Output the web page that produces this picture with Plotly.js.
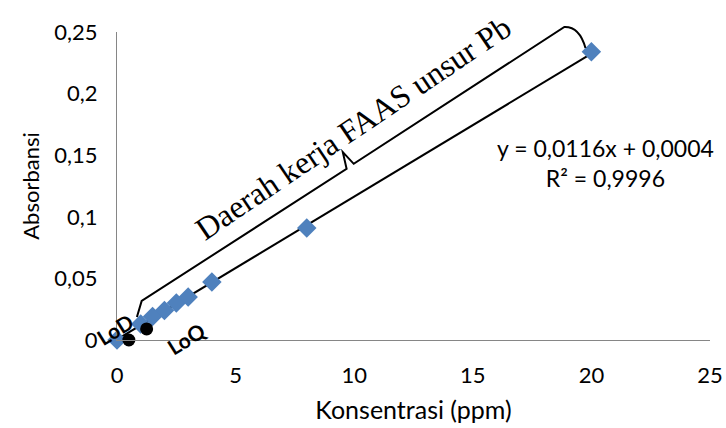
<!DOCTYPE html>
<html><head><meta charset="utf-8">
<script src="https://cdn.plot.ly/plotly-3.0.1.min.js"></script>
<style>html,body{margin:0;padding:0;background:#fff}</style>
</head><body><div id="chart" style="width:726px;height:428px"></div>
<script>
// Calibration data (Pb, FAAS)
const concentration = [0, 1, 1.5, 2, 2.5, 3, 4, 8, 20];
const absorbance = [0, 0.013, 0.019, 0.024, 0.030, 0.035, 0.047, 0.091, 0.234];
// Linear trendline y = 0.0116x + 0.0004
const trendSlope = 0.0116;
const trendIntercept = 0.0004;
const trendX = [0, 20];
// LoD / LoQ points
const limitX = [0.5, 1.25];
const limitY = [0, 0.009];
const limitLabels = ['LoD', 'LoQ'];
// Axis ticks
const xTicks = [0, 5, 10, 15, 20, 25];
const yTicks = [0, 0.05, 0.1, 0.15, 0.2, 0.25];
const yTickLabels = ['0', '0,05', '0,1', '0,15', '0,2', '0,25'];
// Working-range brace (data coordinates)
const braceX = [0.84, 1.04, 9.68, 9.52, 9.98, 18.86, 19.75];
const braceY = [0.0187, 0.0317, 0.1390, 0.1525, 0.1430, 0.2541, 0.237];
const braceLabel = 'Daerah kerja FAAS unsur Pb';
const eqText = 'y = 0,0116x + 0,0004<br>R² = 0,9996';

const xRange = [0, 25], yRange = [0, 0.25];
const px = x => (x - xRange[0]) / (xRange[1] - xRange[0]);
const py = y => (y - yRange[0]) / (yRange[1] - yRange[0]);
const B = braceX.map((x, i) => [px(x), py(braceY[i])]);
const braceCtrl = [px(19.5), py(0.2545)];
const bracePath = `M${B[0][0]},${B[0][1]} L${B[1][0]},${B[1][1]} L${B[2][0]},${B[2][1]} L${B[3][0]},${B[3][1]} L${B[4][0]},${B[4][1]} L${B[5][0]},${B[5][1]} Q${braceCtrl[0]},${braceCtrl[1]} ${B[6][0]},${B[6][1]}`;

const FONT = 'Lato, "Open Sans", sans-serif';
const traces = [
  {x: trendX, y: trendX.map(x => trendSlope * x + trendIntercept), mode: 'lines',
   line: {color: '#000', width: 2}, hoverinfo: 'skip'},
  {x: concentration, y: absorbance, mode: 'markers',
   marker: {symbol: 'diamond', size: 15, color: '#4F81BD'}, cliponaxis: false},
  {x: limitX, y: limitY, mode: 'markers',
   marker: {symbol: 'circle', size: 13, color: '#000'}, cliponaxis: false}
];
const layout = {
  width: 726, height: 428,
  margin: {l: 117, r: 16, t: 32, b: 88},
  paper_bgcolor: '#fff', plot_bgcolor: '#fff',
  showlegend: false,
  font: {family: FONT, size: 22, color: '#000'},
  xaxis: {range: xRange, tickvals: xTicks, showgrid: false, zeroline: false,
    showline: true, linecolor: '#868686', linewidth: 1, ticks: '',
    ticklabelstandoff: 16,
    title: {text: 'Konsentrasi (ppm)', font: {size: 25}, standoff: 14}},
  yaxis: {range: yRange, tickvals: yTicks, ticktext: yTickLabels, showgrid: false, zeroline: false,
    showline: true, linecolor: '#868686', linewidth: 1, ticks: '',
    ticklabelstandoff: 14,
    title: {text: 'Absorbansi', font: {size: 22}, standoff: 8}},
  shapes: [{type: 'path', xref: 'paper', yref: 'paper', path: bracePath,
    line: {color: '#000', width: 2}}],
  annotations: [
    {x: 9.95, y: 0.172, xref: 'x', yref: 'y', text: braceLabel, showarrow: false,
     textangle: -34, font: {family: '"Liberation Serif", "Times New Roman", serif', size: 32, color: '#000'}},
    {x: 20.6, y: 0.144, xref: 'x', yref: 'y', text: eqText, showarrow: false,
     font: {family: FONT, size: 23, color: '#000'}, align: 'center'},
    {x: px(-0.1), y: py(0.0085), xref: 'paper', yref: 'paper', xanchor: 'center', yanchor: 'middle',
     text: '<b>' + limitLabels[0] + '</b>', showarrow: false,
     textangle: -32, font: {family: FONT, size: 21, color: '#000'}},
    {x: px(2.9), y: py(0.0016), xref: 'paper', yref: 'paper', xanchor: 'center', yanchor: 'middle',
     text: '<b>' + limitLabels[1] + '</b>', showarrow: false,
     textangle: -32, font: {family: FONT, size: 21, color: '#000'}}
  ]
};
Plotly.newPlot('chart', traces, layout, {displayModeBar: false, staticPlot: true});
</script></body></html>
